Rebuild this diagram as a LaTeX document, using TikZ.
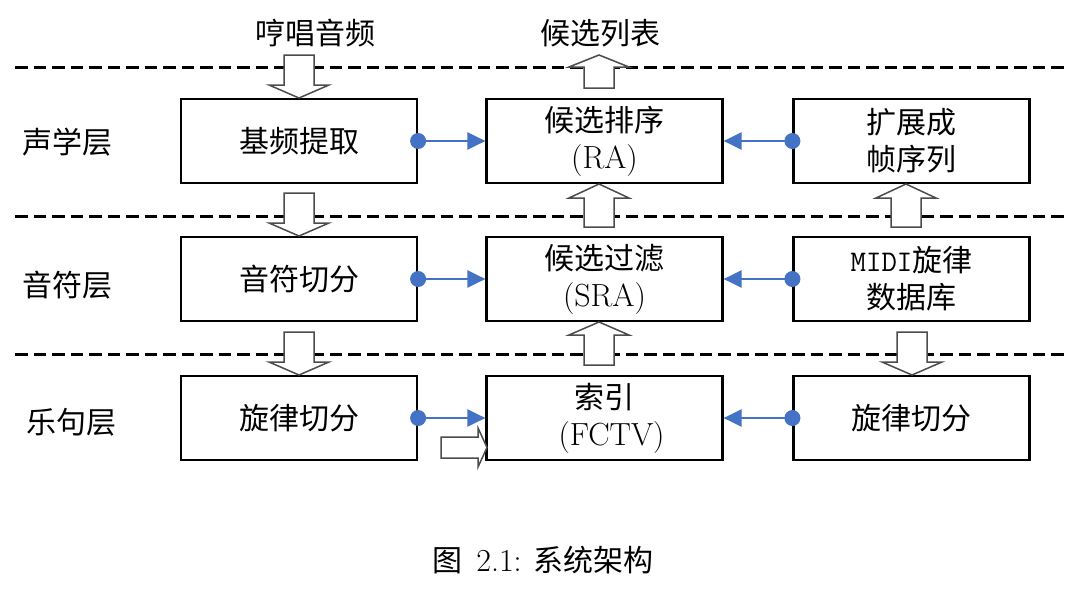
\documentclass[tikz,border=0pt]{standalone}
\usepackage{fontspec}
\newfontfamily\cjk{Noto Sans CJK SC}
\usetikzlibrary{arrows.meta}
\definecolor{linkblue}{RGB}{68,114,196}

% vertical hollow arrow: centre x, shaft start y, neck y, tip y
\newcommand\vhollow[4]{%
  \draw[hollow] (#1-15,#2) -- (#1-15,#3) -- (#1-30,#3) -- (#1,#4)
    -- (#1+30,#3) -- (#1+15,#3) -- (#1+15,#2) -- cycle;}
% Latin text set a little larger than the CJK text
\newcommand\latin[1]{{\rmfamily\fontsize{32}{37}\selectfont #1}}

\begin{document}
\begin{tikzpicture}[x=1pt,y=-1pt,
  every node/.style={font=\fontsize{30}{37}\selectfont\cjk},
  box/.style={draw=black,line width=2.2pt,minimum width=236pt,minimum height=84pt,
    align=center,inner sep=0pt},
  layer/.style={dash pattern=on 12.5pt off 6pt,line width=3pt},
  conn/.style={draw=linkblue,line width=2.4pt,
    -{Triangle[length=18pt,width=17pt]}},
  dot/.style={circle,fill=linkblue,minimum size=16pt,inner sep=0pt},
  hollow/.style={draw=black!70,fill=white,line width=1.5pt,line join=miter},
  lab/.style={inner sep=0pt}]
\useasboundingbox (0,0) rectangle (1070,589);

% layer separators
\draw[layer] (15,67) -- (1066,67);
\draw[layer] (15,216) -- (1066,216);
\draw[layer] (15,354) -- (1066,354);

% inputs and outputs
\node[lab] (in)  at (315,33) {哼唱音频};
\node[lab] (out) at (600,33) {候选列表};

% layer names
\node[lab] (l1) at (67,142) {声学层};
\node[lab] (l2) at (67,285) {音符层};
\node[lab] (l3) at (71,422) {乐句层};

% processing blocks
\node[box] (a1) at (299,141)   {基频提取};
\node[box] (a2) at (604.5,141) {候选排序\\\latin{(RA)}};
\node[box] (a3) at (911.5,141) {扩展成\\帧序列};
\node[box] (b1) at (299,279)   {音符切分};
\node[box] (b2) at (604.5,279) {候选过滤\\\latin{(SRA)}};
\node[box] (b3) at (911.5,279) {{\ttfamily MIDI}旋律\\数据库};
\node[box] (c1) at (299,418)   {旋律切分};
\node[box] (c2) at (604.5,418) {索引\\\hspace{14pt}\latin{(FCTV)}};
\node[box] (c3) at (911.5,418) {旋律切分};

% data links: a round dot at the source, a triangle tip at the target
\draw[conn] (a1.east) node[dot]{} -- (a2.west);
\draw[conn] (a3.west) node[dot]{} -- (a2.east);
\draw[conn] (b1.east) node[dot]{} -- (b2.west);
\draw[conn] (b3.west) node[dot]{} -- (b2.east);
\draw[conn] (c1.east) node[dot]{} -- (c2.west);
\draw[conn] (c3.west) node[dot]{} -- (c2.east);

% hollow flow arrows
\vhollow{299}{55}{85}{98}
\vhollow{599}{88}{67}{55}
\vhollow{299}{193}{223}{236}
\vhollow{599}{227}{198}{184}
\vhollow{906}{227}{198}{184}
\vhollow{299}{332}{362}{375}
\vhollow{599}{365}{335}{322}
\vhollow{912}{332}{362}{375}
\draw[hollow] (441,437) -- (478,437) -- (478,428) -- (487,447.5)
  -- (478,467) -- (478,458) -- (441,458) -- cycle;

% caption
\node[lab] (cap) at (543,560) {图\hspace{14pt}\latin{2.1:}\hspace{12pt}系统架构};
\end{tikzpicture}
\end{document}
